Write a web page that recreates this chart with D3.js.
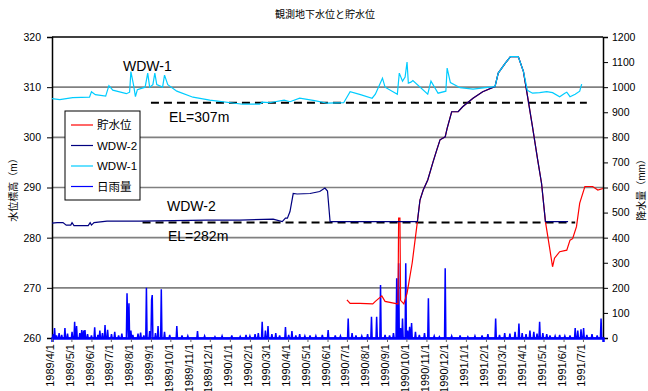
<!DOCTYPE html>
<html>
<head>
<meta charset="utf-8">
<script src="https://cdn.jsdelivr.net/npm/d3@7"></script>
<style>
body { margin: 0; background: #fff; }
text { font-family: "Liberation Sans", "Noto Sans CJK JP", sans-serif; fill: #000; }
</style>
</head>
<body>
<div class="chart"></div>
<script>
// observed levels [date, m]
const reservoir = [
  ["1990-07-01",267.6],["1990-07-06",266.9],["1990-07-21",266.9],["1990-08-10",266.8],["1990-08-14",267.3],
  ["1990-08-24",268.4],["1990-08-29",267.3],["1990-09-17",266.8],["1990-09-18",266.8],["1990-09-19",283.9],
  ["1990-09-21",283.9],["1990-09-22",267.5],["1990-09-27",266.8],["1990-10-02",268.9],["1990-10-10",275.0],
  ["1990-10-18",283.2],["1990-10-22",287.5],["1990-10-27",289.5],["1990-11-03",291.5],["1990-11-11",295.0],
  ["1990-11-17",297.5],["1990-11-22",299.5],["1990-11-30",300.1],["1990-12-03",301.8],["1990-12-10",305.1],
  ["1990-12-20",305.1],["1990-12-27",306.1],["1991-01-12",307.8],["1991-01-27",309.1],["1991-02-15",310.1],
  ["1991-02-20",312.8],["1991-03-03",314.8],["1991-03-11",316.1],["1991-03-23",316.1],["1991-03-31",313.1],
  ["1991-04-06",308.4],["1991-04-14",302.1],["1991-04-22",295.5],["1991-04-28",290.8],["1991-05-04",283.2],
  ["1991-05-11",277.5],["1991-05-15",274.2],["1991-05-18",275.9],["1991-05-26",277.2],["1991-06-06",277.5],
  ["1991-06-11",279.5],["1991-06-15",279.8],["1991-06-21",282.2],["1991-06-26",286.9],["1991-07-04",290.2],
  ["1991-07-16",290.2],["1991-07-24",289.5],["1991-08-01",289.8]
];

const wdw2 = [
  ["1989-04-01",282.9],["1989-04-09",283.0],["1989-04-18",283.0],["1989-04-23",282.5],["1989-04-30",282.5],
  ["1989-05-02",283.0],["1989-05-05",282.4],["1989-05-27",282.4],["1989-05-30",283.0],["1989-06-01",282.5],
  ["1989-06-05",283.0],["1989-06-25",283.3],["1989-08-15",283.3],["1989-10-05",283.4],["1989-11-26",283.5],
  ["1990-01-16",283.5],["1990-03-09",283.7],["1990-03-23",283.2],["1990-03-28",283.9],["1990-03-31",283.9],
  ["1990-04-04",285.2],["1990-04-09",288.8],["1990-04-15",288.7],["1990-05-05",288.8],["1990-05-20",289.2],
  ["1990-05-28",289.9],["1990-06-01",289.3],["1990-06-05",283.2],["1990-07-22",283.2],["1990-09-11",283.2],
  ["1990-10-18",283.2],["1990-10-22",287.5],["1990-10-27",289.5],["1990-11-03",291.5],["1990-11-11",295.0],
  ["1990-11-17",297.5],["1990-11-22",299.5],["1990-11-30",300.1],["1990-12-03",301.8],["1990-12-10",305.1],
  ["1990-12-20",305.1],["1990-12-27",306.1],["1991-01-12",307.8],["1991-01-27",309.1],["1991-02-15",310.1],
  ["1991-02-20",312.8],["1991-03-03",314.8],["1991-03-11",316.1],["1991-03-23",316.1],["1991-03-31",313.1],
  ["1991-04-06",308.4],["1991-04-14",302.1],["1991-04-22",295.5],["1991-04-28",290.8],["1991-05-04",283.2],
  ["1991-06-08",283.2]
];

const wdw1 = [
  ["1989-04-01",307.7],["1989-04-13",307.5],["1989-05-03",307.9],["1989-05-29",308.0],["1989-06-01",309.1],
  ["1989-06-07",308.5],["1989-06-23",308.2],["1989-06-28",310.3],["1989-07-04",309.4],["1989-07-25",308.7],
  ["1989-07-30",309.0],["1989-08-01",313.1],["1989-08-05",310.5],["1989-08-08",308.1],["1989-08-11",309.5],
  ["1989-08-23",310.0],["1989-08-27",312.8],["1989-08-30",310.0],["1989-09-04",310.5],["1989-09-07",312.8],
  ["1989-09-10",310.5],["1989-09-19",310.0],["1989-09-22",312.4],["1989-09-27",310.5],["1989-10-11",309.2],
  ["1989-11-05",308.0],["1989-12-01",307.4],["1990-01-21",306.6],["1990-02-16",306.6],["1990-02-20",307.0],
  ["1990-03-03",306.9],["1990-03-26",307.4],["1990-04-04",307.1],["1990-04-19",307.8],["1990-05-12",307.3],
  ["1990-06-01",306.8],["1990-06-26",306.9],["1990-07-06",309.1],["1990-07-22",308.5],["1990-08-09",307.8],
  ["1990-08-14",308.6],["1990-08-25",311.8],["1990-08-29",310.0],["1990-09-17",308.6],["1990-09-20",312.8],
  ["1990-09-25",311.2],["1990-09-29",312.0],["1990-10-02",315.0],["1990-10-04",310.8],["1990-10-08",311.0],
  ["1990-10-11",311.3],["1990-11-03",308.6],["1990-11-08",311.2],["1990-11-19",308.8],["1990-12-01",309.2],
  ["1990-12-03",313.8],["1990-12-08",310.9],["1990-12-23",309.9],["1991-01-12",309.6],["1991-01-31",309.9],
  ["1991-02-15",310.1],["1991-02-20",312.8],["1991-03-03",314.8],["1991-03-11",316.1],["1991-03-23",316.1],
  ["1991-03-31",313.1],["1991-04-06",309.4],["1991-04-10",309.1],["1991-04-14",308.8],["1991-04-25",308.9],
  ["1991-05-06",309.1],["1991-05-15",308.9],["1991-05-26",308.1],["1991-06-03",308.8],["1991-06-06",309.0],
  ["1991-06-11",308.1],["1991-06-19",308.6],["1991-06-26",309.2],["1991-06-29",310.6]
];

// daily rainfall [date, mm], days not listed had none
const rainfall = [
  ["1989-04-03",15],["1989-04-05",40],["1989-04-08",10],["1989-04-12",20],["1989-04-16",12],["1989-04-21",40],
  ["1989-04-25",18],["1989-05-02",25],["1989-05-06",65],["1989-05-09",48],["1989-05-14",20],["1989-05-17",32],
  ["1989-05-20",30],["1989-05-22",32],["1989-05-26",15],["1989-06-01",10],["1989-06-06",43],["1989-06-11",12],
  ["1989-06-14",30],["1989-06-18",20],["1989-06-22",52],["1989-06-26",33],["1989-07-02",15],["1989-07-07",25],
  ["1989-07-13",10],["1989-07-18",18],["1989-07-26",178],["1989-07-27",72],["1989-07-29",138],["1989-08-01",30],
  ["1989-08-04",12],["1989-08-12",18],["1989-08-16",22],["1989-08-21",10],["1989-08-25",200],["1989-08-30",28],
  ["1989-09-02",152],["1989-09-03",171],["1989-09-08",20],["1989-09-12",48],["1989-09-17",194],["1989-09-22",25],
  ["1989-09-30",12],["1989-10-11",48],["1989-10-19",10],["1989-10-28",8],["1989-11-12",28],["1989-11-23",8],
  ["1989-12-09",5],["1989-12-20",8],["1990-01-04",10],["1990-01-17",6],["1990-01-26",12],["1990-02-01",8],
  ["1990-02-09",15],["1990-02-14",20],["1990-02-20",65],["1990-02-25",30],["1990-03-01",48],["1990-03-07",15],
  ["1990-03-13",20],["1990-03-19",10],["1990-03-28",44],["1990-04-02",12],["1990-04-07",28],["1990-04-13",10],
  ["1990-04-19",15],["1990-04-27",8],["1990-05-05",10],["1990-05-14",8],["1990-05-24",12],["1990-06-02",32],
  ["1990-06-13",10],["1990-06-21",8],["1990-07-03",78],["1990-07-09",20],["1990-07-15",10],["1990-07-24",8],
  ["1990-08-02",15],["1990-08-08",85],["1990-08-16",85],["1990-08-22",211],["1990-08-29",12],["1990-09-05",10],
  ["1990-09-11",20],["1990-09-16",238],["1990-09-19",298],["1990-09-22",40],["1990-09-25",78],["1990-09-30",298],
  ["1990-10-03",30],["1990-10-06",45],["1990-10-09",60],["1990-10-15",25],["1990-10-21",12],["1990-10-29",20],
  ["1990-11-04",158],["1990-11-13",8],["1990-11-21",5],["1990-11-30",278],["1990-12-10",8],["1990-12-23",10],
  ["1991-01-04",5],["1991-01-15",8],["1991-01-26",10],["1991-02-04",15],["1991-02-16",78],["1991-02-22",12],
  ["1991-03-02",20],["1991-03-10",18],["1991-03-18",25],["1991-03-24",58],["1991-03-29",20],["1991-04-04",15],
  ["1991-04-10",30],["1991-04-16",25],["1991-04-21",18],["1991-04-25",65],["1991-04-30",20],["1991-05-06",15],
  ["1991-05-11",10],["1991-05-19",8],["1991-05-26",12],["1991-06-03",8],["1991-06-11",10],["1991-06-19",40],
  ["1991-06-23",30],["1991-06-28",35],["1991-07-02",40],["1991-07-07",12],["1991-07-15",15],["1991-07-23",10],
  ["1991-07-29",78]
];

// reference elevations (dashed) and the text beside them
const elLines = [
  {name: "WDW-1", label: "EL=307m", value: 306.9, from: "1989-09-01", to: "1991-07-07"},
  {name: "WDW-2", label: "EL=282m", value: 283.0, from: "1989-08-19", to: "1991-06-19"}
];

const leftTicks = [260, 270, 280, 290, 300, 310, 320];
const rightTicks = [0, 100, 200, 300, 400, 500, 600, 700, 800, 900, 1000, 1100, 1200];
const legendItems = [
  {label: "貯水位", color: "#ff0000"},
  {label: "WDW-2", color: "#000080"},
  {label: "WDW-1", color: "#00ccff"},
  {label: "日雨量", color: "#0000ff"}
];

const parse = d3.utcParse("%Y-%m-%d");
const fmt = d3.utcFormat("%Y/%-m/%-d");

const margin = {top: 37, right: 45, bottom: 53, left: 52};
const outerWidth = 648;
const outerHeight = 391;
const width = outerWidth - margin.left - margin.right;
const height = outerHeight - margin.top - margin.bottom;

const svg = d3.select('.chart').append('svg')
    .attr('width', outerWidth)
    .attr('height', outerHeight);

svg.append('text')
    .attr('x', 325).attr('y', 18)
    .attr('text-anchor', 'middle')
    .style('font-size', '10px')
    .text('観測地下水位と貯水位');

const g = svg.append('g')
    .attr('transform', `translate(${margin.left}, ${margin.top})`);

// Scales
const startDay = parse("1989-04-01");
const endDay = parse("1991-08-01");
const x = d3.scaleUtc().domain([startDay, endDay]).range([0, width]);
const yL = d3.scaleLinear().domain([260, 320]).range([height, 0]);
const yR = d3.scaleLinear().domain([0, 1200]).range([height, 0]);

// Gridlines
g.selectAll('.grid').data(leftTicks.filter(v => v > 260 && v < 320)).enter()
    .append('line')
    .attr('x1', 0).attr('x2', width)
    .attr('y1', d => yL(d)).attr('y2', d => yL(d))
    .attr('stroke', '#808080').attr('stroke-width', 1.6);

// Axes
const monthTicks = d3.utcMonth.range(startDay, endDay);
const yAxisL = d3.axisLeft(yL).tickValues(leftTicks).tickSize(5).tickPadding(6);
const yAxisR = d3.axisRight(yR).tickValues(rightTicks).tickSize(5).tickPadding(4).tickFormat(d3.format('d'));
const xAxis = d3.axisBottom(x).tickValues(monthTicks).tickSize(4).tickFormat(fmt);

const gyL = g.append('g').call(yAxisL);
const gyR = g.append('g').attr('transform', `translate(${width}, 0)`).call(yAxisR);
const gx = g.append('g').attr('transform', `translate(0, ${height})`).call(xAxis);

[gyL, gyR, gx].forEach(a => {
    a.select('.domain').attr('stroke', '#000').attr('stroke-width', 1.5);
    a.selectAll('.tick line').attr('stroke', '#000');
    a.selectAll('text').style('font-size', '10.5px').attr('fill', '#000').style('font-family', '"Liberation Sans", sans-serif');
});
gx.select('.domain').attr('stroke', '#0000ff').attr('stroke-width', 2.5);
gx.selectAll('.tick line').attr('stroke', '#666');
gx.selectAll('text')
    .style('font-size', '11px')
    .attr('transform', 'rotate(-90)')
    .attr('text-anchor', 'end')
    .attr('x', -6).attr('y', -2)
    .attr('dy', '0.35em');

// top border
g.append('line').attr('x1', 0).attr('x2', width).attr('y1', 0).attr('y2', 0)
    .attr('stroke', '#000').attr('stroke-width', 1.5);

// Axis titles
svg.append('text')
    .attr('transform', `translate(17, ${margin.top + yL(290)}) rotate(-90)`)
    .attr('text-anchor', 'middle')
    .style('font-size', '10px')
    .text('水位標高（m）');
svg.append('text')
    .attr('transform', `translate(645, ${margin.top + yL(290)}) rotate(-90)`)
    .attr('text-anchor', 'middle')
    .style('font-size', '10px')
    .text('降水量（mm）');

// Reference elevations
g.selectAll('.el').data(elLines).enter()
    .append('line')
    .attr('x1', d => x(parse(d.from))).attr('x2', d => x(parse(d.to)))
    .attr('y1', d => yL(d.value)).attr('y2', d => yL(d.value))
    .attr('stroke', '#000').attr('stroke-width', 2)
    .attr('stroke-dasharray', '8,5');

// Rainfall as daily line
const rainMap = new Map(rainfall.map(d => [+parse(d[0]), d[1]]));
const days = d3.utcDay.range(startDay, d3.utcDay.offset(endDay, 1));
const rainSeries = days.map(d => [d, rainMap.get(+d) || 0]);

g.append('path')
    .datum(rainSeries)
    .attr('fill', 'none')
    .attr('stroke', '#0000ff')
    .attr('stroke-width', 1.5)
    .attr('d', d3.line().x(d => x(d[0])).y(d => yR(d[1])));

// Level lines
const levelLine = d3.line().x(d => x(parse(d[0]))).y(d => yL(d[1]));
[[reservoir, '#ff0000'], [wdw2, '#000080'], [wdw1, '#00ccff']].forEach(([data, color]) => {
    g.append('path')
        .datum(data)
        .attr('fill', 'none')
        .attr('stroke', color)
        .attr('stroke-width', 1.2)
        .attr('d', levelLine);
});

// Annotations
const notes = [
    {text: elLines[0].name, x: 123, y: 71},
    {text: elLines[0].label, x: 169, y: 122},
    {text: elLines[1].name, x: 167, y: 211},
    {text: elLines[1].label, x: 168, y: 241}
];
svg.selectAll('.note').data(notes).enter()
    .append('text')
    .attr('x', d => d.x).attr('y', d => d.y)
    .style('font-size', '14px')
    .text(d => d.text);

// Legend
const legend = svg.append('g').attr('transform', 'translate(65, 111)');
legend.append('rect')
    .attr('width', 75).attr('height', 89)
    .attr('fill', '#fff').attr('stroke', '#000').attr('stroke-width', 1);
legendItems.forEach((d, i) => {
    const yy = 14 + i * 20.5;
    legend.append('line')
        .attr('x1', 6).attr('x2', 28).attr('y1', yy).attr('y2', yy)
        .attr('stroke', d.color).attr('stroke-width', 1.2);
    legend.append('text')
        .attr('x', 32).attr('y', yy).attr('dy', '0.36em')
        .style('font-size', '11.5px')
        .text(d.label);
});
</script>
</body>
</html>
